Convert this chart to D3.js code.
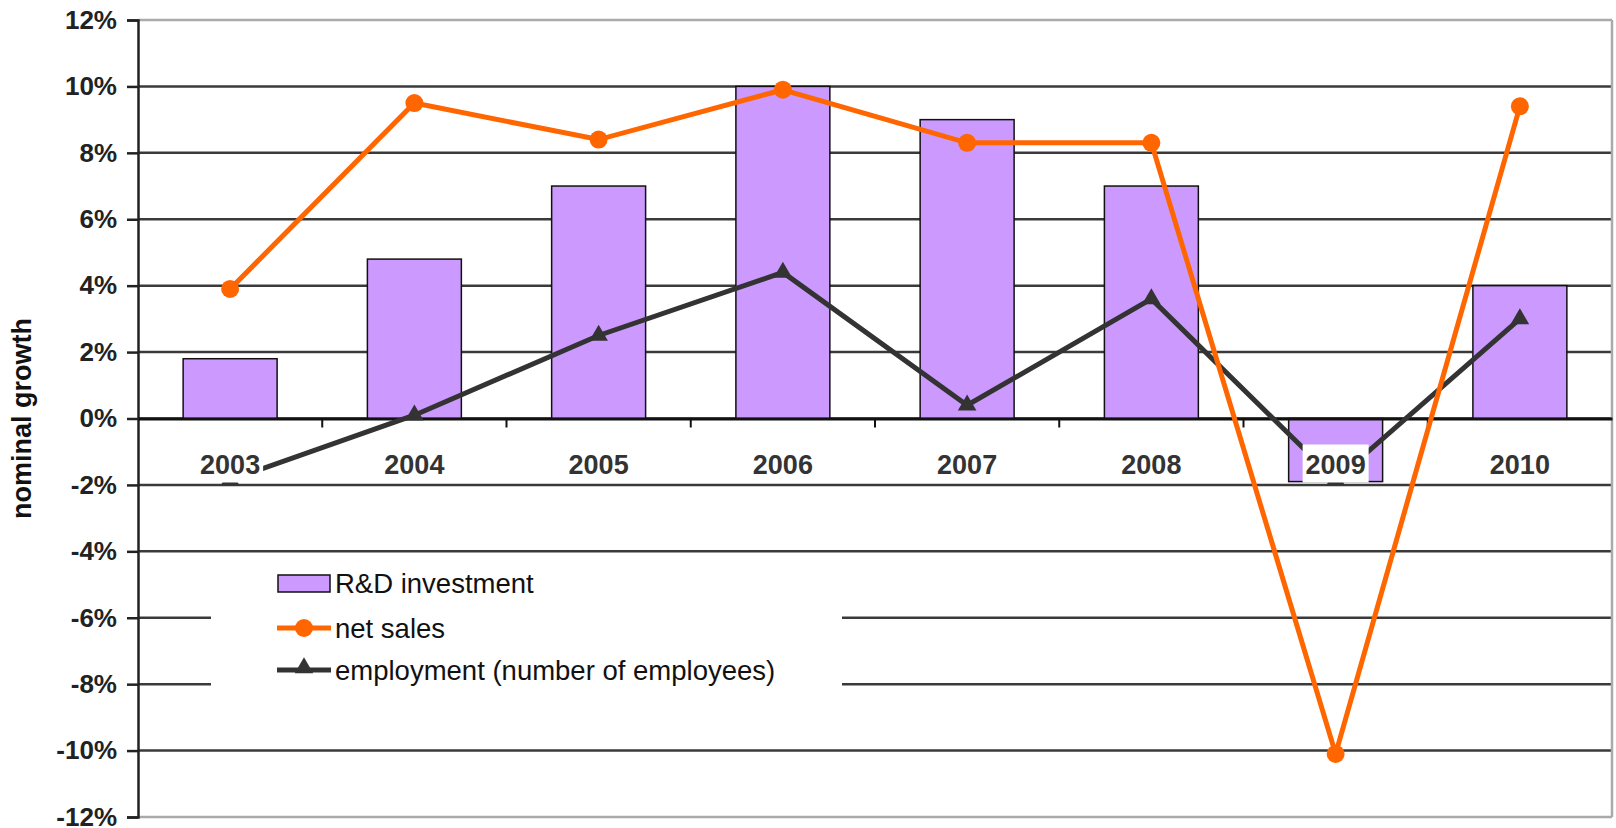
<!DOCTYPE html>
<html>
<head>
<meta charset="utf-8">
<script src="https://cdn.jsdelivr.net/npm/d3@7"></script>
<style>
  body { margin: 0; background: #fff; }
  text { font-family: 'Liberation Sans', Arial, sans-serif; }
</style>
</head>
<body>
<div id="chart-container"></div>
<script>
// nominal growth chart: R&D investment bars + net sales / employment lines
const years = ['2003', '2004', '2005', '2006', '2007', '2008', '2009', '2010'];
const rdInvestment = [1.8, 4.8, 7.0, 10.0, 9.0, 7.0, -1.9, 4.0];
const netSales = [3.9, 9.5, 8.4, 9.9, 8.3, 8.3, -10.1, 9.4];
const employment = [-1.85, 0.1, 2.5, 4.4, 0.4, 3.6, -1.85, 3.0];
const yTicks = [-12, -10, -8, -6, -4, -2, 0, 2, 4, 6, 8, 10, 12];

const svgWidth = 1616;
const svgHeight = 828;
const plotLeft = 138, plotRight = 1612, plotTop = 20, plotBottom = 817;

const svg = d3
  .select('#chart-container')
  .append('svg')
  .attr('width', svgWidth)
  .attr('height', svgHeight);

const xScale = d3.scaleBand().domain(years).range([plotLeft, plotRight]).padding(0);
const yScale = d3.scaleLinear().domain([-12, 12]).range([plotBottom, plotTop]);
const barW = xScale.bandwidth() * 0.51;
const cx = (d) => xScale(d) + xScale.bandwidth() / 2;

// gridlines
svg
  .selectAll('.grid')
  .data(yTicks)
  .enter()
  .append('line')
  .attr('x1', plotLeft)
  .attr('x2', plotRight)
  .attr('y1', (d) => yScale(d))
  .attr('y2', (d) => yScale(d))
  .attr('stroke', (d) => (d === 12 || d === -12 ? '#aaa' : '#3a3a3a'))
  .attr('stroke-width', 2.5);

// right border
svg
  .append('line')
  .attr('x1', plotRight)
  .attr('x2', plotRight)
  .attr('y1', yScale(12))
  .attr('y2', yScale(-12))
  .attr('stroke', '#aaa')
  .attr('stroke-width', 2.5);

// y axis
const yAxis = d3
  .axisLeft(yScale)
  .tickValues(yTicks)
  .tickSize(11)
  .tickPadding(10)
  .tickFormat((d) => d + '%');
const yg = svg
  .append('g')
  .attr('transform', 'translate(' + plotLeft + ',0)')
  .call(yAxis);
yg.selectAll('.domain').attr('stroke', '#222').attr('stroke-width', 2.5);
yg.selectAll('.tick line').attr('stroke', '#222').attr('stroke-width', 2.5);
yg.selectAll('text')
  .style('font-family', "'Liberation Sans', Arial, sans-serif")
  .style('font-size', '26px')
  .style('font-weight', '700')
  .attr('fill', '#222');

// y title
svg
  .append('text')
  .attr('transform', 'translate(31,' + (plotTop + plotBottom) / 2 + ') rotate(-90)')
  .attr('text-anchor', 'middle')
  .attr('font-size', '27px')
  .attr('font-weight', '700')
  .attr('fill', '#111')
  .text('nominal growth');

// bars
svg
  .selectAll('.bar')
  .data(years)
  .enter()
  .append('rect')
  .attr('class', 'bar')
  .attr('x', (d) => cx(d) - barW / 2)
  .attr('y', (d, i) => yScale(Math.max(0, rdInvestment[i])))
  .attr('width', barW)
  .attr('height', (d, i) => Math.abs(yScale(rdInvestment[i]) - yScale(0)))
  .attr('fill', '#cc99ff')
  .attr('stroke', '#111')
  .attr('stroke-width', 1.5);

// x axis at 0
const xAxis = d3.axisBottom(xScale).tickSize(0).tickFormat('');
const xg = svg
  .append('g')
  .attr('transform', 'translate(0,' + yScale(0) + ')')
  .call(xAxis);
xg.selectAll('.domain').attr('stroke', '#111').attr('stroke-width', 3);
xg.selectAll('.tick').remove();
svg
  .selectAll('.xtick')
  .data(years.slice(1))
  .enter()
  .append('line')
  .attr('x1', (d) => xScale(d))
  .attr('x2', (d) => xScale(d))
  .attr('y1', yScale(0))
  .attr('y2', yScale(0) + 9)
  .attr('stroke', '#111')
  .attr('stroke-width', 2);

// lines
const line = (vals) =>
  d3
    .line()
    .x((d) => cx(d))
    .y((d, i) => yScale(vals[i]))(years);

svg
  .append('path')
  .attr('d', line(employment))
  .attr('fill', 'none')
  .attr('stroke', '#333')
  .attr('stroke-width', 5);

svg
  .append('path')
  .attr('d', line(netSales))
  .attr('fill', 'none')
  .attr('stroke', '#ff6600')
  .attr('stroke-width', 5);

svg
  .selectAll('.tri')
  .data(years)
  .enter()
  .append('path')
  .attr('d', d3.symbol().type(d3.symbolTriangle).size(150))
  .attr('transform', (d, i) => 'translate(' + cx(d) + ',' + yScale(employment[i]) + ')')
  .attr('fill', '#333');

svg
  .selectAll('.dot')
  .data(years)
  .enter()
  .append('circle')
  .attr('cx', (d) => cx(d))
  .attr('cy', (d, i) => yScale(netSales[i]))
  .attr('r', 9)
  .attr('fill', '#ff6600');

// category labels with white background
const labelY = yScale(0) + 55;
const lab = svg
  .selectAll('.xlabel')
  .data(years)
  .enter()
  .append('g');
lab
  .append('rect')
  .attr('x', (d) => cx(d) - 33)
  .attr('y', labelY - 29)
  .attr('width', 66)
  .attr('height', 38)
  .attr('fill', '#fff');
lab
  .append('text')
  .attr('x', (d) => cx(d))
  .attr('y', labelY)
  .attr('text-anchor', 'middle')
  .attr('font-size', '27px')
  .attr('font-weight', '700')
  .attr('fill', '#333')
  .text((d) => d);

// legend
const lg = svg.append('g');
lg.append('rect')
  .attr('x', 211)
  .attr('y', 557)
  .attr('width', 631)
  .attr('height', 143)
  .attr('fill', '#fff');
lg.append('rect')
  .attr('x', 278)
  .attr('y', 575)
  .attr('width', 52)
  .attr('height', 17)
  .attr('fill', '#cc99ff')
  .attr('stroke', '#111')
  .attr('stroke-width', 1.5);
lg.append('line')
  .attr('x1', 277).attr('x2', 331)
  .attr('y1', 628).attr('y2', 628)
  .attr('stroke', '#ff6600').attr('stroke-width', 5);
lg.append('circle').attr('cx', 304).attr('cy', 628).attr('r', 9).attr('fill', '#ff6600');
lg.append('line')
  .attr('x1', 277).attr('x2', 331)
  .attr('y1', 670).attr('y2', 670)
  .attr('stroke', '#333').attr('stroke-width', 5);
lg.append('path')
  .attr('d', d3.symbol().type(d3.symbolTriangle).size(150))
  .attr('transform', 'translate(304,668)')
  .attr('fill', '#333');
const legendText = ['R&D investment', 'net sales', 'employment (number of employees)'];
lg.selectAll('.lt')
  .data(legendText)
  .enter()
  .append('text')
  .attr('x', 335)
  .attr('y', (d, i) => [593, 638, 680][i])
  .attr('font-size', '27.5px')
  .attr('fill', '#111')
  .text((d) => d);
</script>
</body>
</html>
